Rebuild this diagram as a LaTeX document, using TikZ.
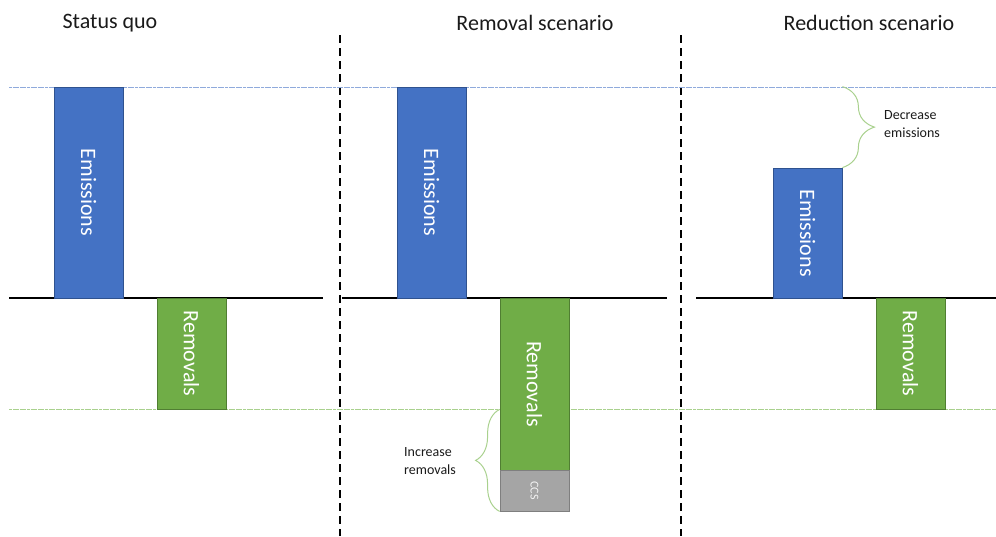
\documentclass[tikz,border=0pt]{standalone}
\usepackage{fontspec}
\setmainfont{Carlito}
\usetikzlibrary{decorations.pathreplacing}
\definecolor{eblue}{HTML}{4472C4}
\definecolor{eblueD}{HTML}{2F528F}
\definecolor{rgreen}{HTML}{70AD47}
\definecolor{rgreenD}{HTML}{507E32}
\definecolor{cgray}{HTML}{A5A5A5}
\definecolor{cgrayD}{HTML}{7F7F7F}
\definecolor{lblue}{HTML}{8FAADC}
\definecolor{lgreen}{HTML}{A9D18E}
\definecolor{txt}{HTML}{1A1A1A}
\begin{document}
\begin{tikzpicture}[x=1pt,y=-1pt,
  bar/.style={draw, line width=0.8pt, inner sep=0pt, minimum width=69pt, text=white,
    font=\fontsize{22}{26}\selectfont},
  ebar/.style={bar, fill=eblue, draw=eblueD},
  rbar/.style={bar, fill=rgreen, draw=rgreenD},
  cbar/.style={bar, fill=cgray, draw=cgrayD, text=white!88!cgray, font=\fontsize{12}{14}\selectfont},
  title/.style={text=txt, font=\fontsize{22}{26}\selectfont},
  note/.style={text=txt, anchor=west, align=left, inner sep=0pt, font=\fontsize{14}{18}\selectfont},
  base/.style={black, line width=1.4pt},
  level/.style={line width=0.8pt, dash pattern=on 3pt off 0.6pt},
  divider/.style={black, line width=1.3pt, dash pattern=on 8pt off 5pt},
  bracestyle/.style={lgreen, line width=1pt, decorate}
]
\useasboundingbox (0,0) rectangle (996,536);

% titles
\node[title] (t1) at (110,23) {Status quo};
\node[title] (t2) at (535,23) {Removal scenario};
\node[title] (t3) at (869,23) {Reduction scenario};

% dividers
\draw[divider] (340,35) -- (340,536);
\draw[divider] (681,35) -- (681,536);

% reference levels
\draw[level, lblue] (9,87) -- (996,87);
\draw[level, lgreen] (9,409) -- (996,409);

% baselines
\draw[base] (9,298) -- (323,298);
\draw[base] (342,298) -- (667,298);
\draw[base] (696,298) -- (996,298);

% status quo
\node[ebar, minimum height=211pt] (e1) at (88.5,192.5) {\rotatebox{-90}{Emissions}};
\node[rbar, minimum height=111pt] (r1) at (191.5,353.5) {\rotatebox{-90}{Removals}};

% removal scenario
\node[ebar, minimum height=211pt] (e2) at (431.5,192.5) {\rotatebox{-90}{Emissions}};
\node[rbar, minimum height=172pt] (r2) at (534.5,384) {\rotatebox{-90}{Removals}};
\node[cbar, minimum height=41pt] (c2) at (534.5,490.5) {\rotatebox{-90}{CCS}};

% reduction scenario
\node[ebar, minimum height=130pt] (e3) at (807.5,233) {\rotatebox{-90}{Emissions}};
\node[rbar, minimum height=111pt] (r3) at (910.5,353.5) {\rotatebox{-90}{Removals}};

% braces
\draw[bracestyle, decoration={brace, amplitude=24pt}] (c2.south west) -- (r1.south -| r2.west);
\draw[bracestyle, decoration={brace, amplitude=32pt}] (e2.north -| e3.east) -- (e3.north east);

\node[note] (n2) at (404,461) {Increase\\removals};
\node[note] (n3) at (884,124) {Decrease\\emissions};
\end{tikzpicture}
\end{document}
